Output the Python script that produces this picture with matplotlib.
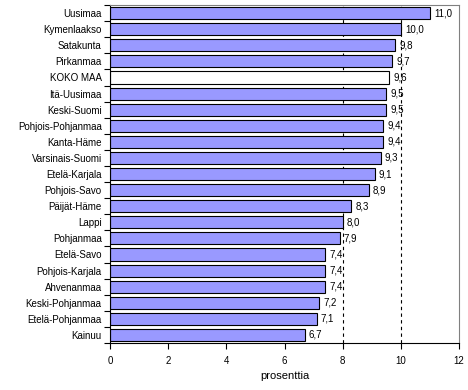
import numpy as np
import matplotlib.pyplot as plt

plt.rcParams['font.family'] = ['Liberation Sans', 'DejaVu Sans']

regions = ['Uusimaa', 'Kymenlaakso', 'Satakunta', 'Pirkanmaa', 'KOKO MAA',
           'Itä-Uusimaa', 'Keski-Suomi', 'Pohjois-Pohjanmaa', 'Kanta-Häme',
           'Varsinais-Suomi', 'Etelä-Karjala', 'Pohjois-Savo', 'Päijät-Häme',
           'Lappi', 'Pohjanmaa', 'Etelä-Savo', 'Pohjois-Karjala', 'Ahvenanmaa',
           'Keski-Pohjanmaa', 'Etelä-Pohjanmaa', 'Kainuu']
values = [11.0, 10.0, 9.8, 9.7, 9.6, 9.5, 9.5, 9.4, 9.4, 9.3, 9.1, 8.9, 8.3,
          8.0, 7.9, 7.4, 7.4, 7.4, 7.2, 7.1, 6.7]
ref_lines = [8, 10]

fig = plt.figure(figsize=(4.68, 3.9), dpi=100)
ax = fig.add_axes([0.235, 0.1205, 0.746, 0.8665])

y = np.arange(len(regions))
colors = ['white' if r == 'KOKO MAA' else '#9999ff' for r in regions]
ax.barh(y, values, height=0.75, color=colors, edgecolor='black', linewidth=0.8, zorder=2)
for xv in ref_lines:
    ax.axvline(xv, color='black', linestyle=(0, (3, 3)), linewidth=0.8, zorder=1)

for yi, v in zip(y, values):
    ax.text(v + 0.14, yi, f'{v:.1f}'.replace('.', ','), va='center', ha='left', fontsize=7, zorder=3)

ax.set_ylim(len(regions) - 0.5, -0.5)
ax.set_xlim(0, 12)
ax.set_xticks(range(0, 13, 2))
ax.set_yticks(y)
ax.set_yticklabels(regions, fontsize=7)
ax.set_yticks(np.arange(-0.5, len(regions)), minor=True)
ax.tick_params(axis='y', which='major', length=0, pad=6)
ax.tick_params(axis='y', which='minor', length=4, direction='out', width=0.8)
ax.tick_params(axis='x', length=4, width=0.8, labelsize=7, pad=5)
ax.set_xlabel('prosenttia', fontsize=8, labelpad=4)

for s in ['top', 'right']:
    ax.spines[s].set_color('#808080')
    ax.spines[s].set_linewidth(0.8)
for s in ['left', 'bottom']:
    ax.spines[s].set_linewidth(0.8)

fig.savefig('out.png', dpi=100)
